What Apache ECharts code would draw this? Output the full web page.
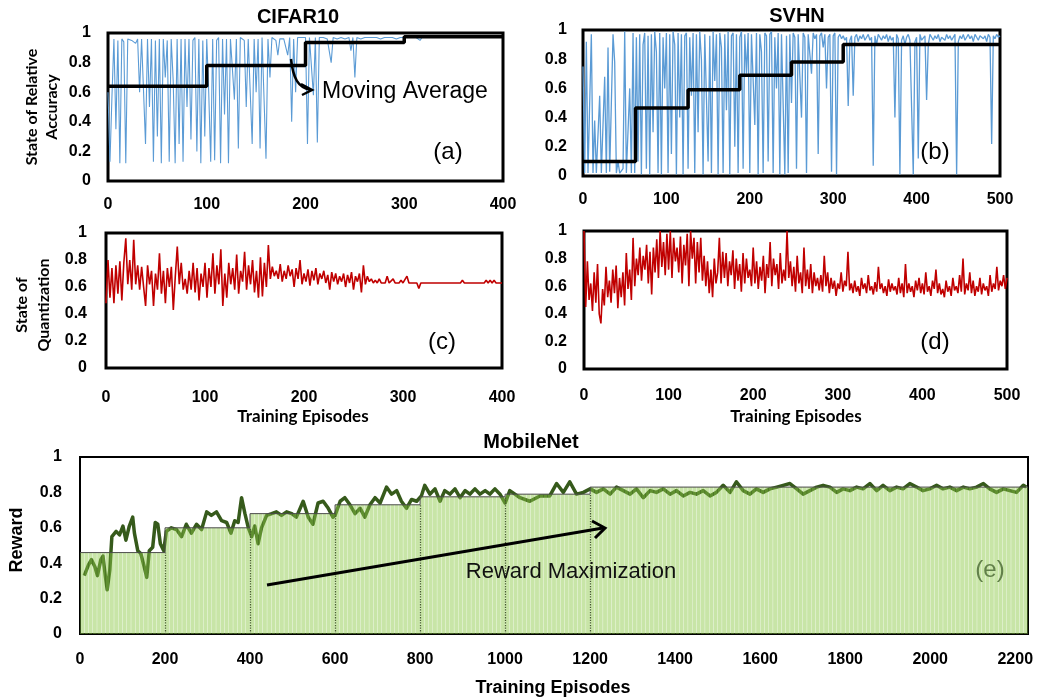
<!DOCTYPE html>
<html>
<head>
<meta charset="utf-8">
<script src="https://cdn.jsdelivr.net/npm/echarts@6.0.0/dist/echarts.min.js"></script>
<style>
html, body { margin: 0; padding: 0; background: #fff; }
#main { width: 1038px; height: 700px; }
</style>
</head>
<body>
<div id="main"></div>
<script>
// ---- (a) CIFAR10 relative accuracy, one value every 2 episodes (0..400)
var accA = [
  0.60, 0.13, 0.57, 0.96, 0.35, 0.95, 0.12, 0.96, 0.94, 0.12,
  0.96, 0.97, 0.95, 0.96, 0.93, 0.96, 0.60, 0.96, 0.97, 0.25,
  0.96, 0.50, 0.96, 0.13, 0.95, 0.30, 0.96, 0.12, 0.96, 0.70,
  0.95, 0.13, 0.96, 0.68, 0.12, 0.96, 0.25, 0.96, 0.13, 0.96,
  0.50, 0.96, 0.28, 0.95, 0.97, 0.20, 0.96, 0.12, 0.95, 0.30,
  0.96, 0.60, 0.13, 0.96, 0.14, 0.95, 0.97, 0.12, 0.96, 0.45,
  0.96, 0.12, 0.96, 0.95, 0.55, 0.96, 0.22, 0.97, 0.96, 0.95,
  0.50, 0.96, 0.95, 0.25, 0.96, 0.60, 0.96, 0.22, 0.97, 0.96,
  0.15, 0.96, 0.70, 0.97, 0.96, 0.95, 0.85, 0.96, 0.97, 0.96,
  0.96, 0.85, 0.97, 0.40, 0.96, 0.60, 0.97, 0.96, 0.97, 0.96,
  0.97, 0.25, 0.97, 0.96, 0.58, 0.97, 0.26, 0.97, 0.96, 0.97,
  0.97, 0.96, 0.97, 0.80, 0.97, 0.97, 0.96, 0.97, 0.97, 0.97,
  0.96, 0.97, 0.97, 0.88, 0.97, 0.70, 0.97, 0.97, 0.96, 0.97,
  0.97, 0.97, 0.97, 0.96, 0.97, 0.97, 0.97, 0.97, 0.96, 0.97,
  0.97, 0.97, 0.97, 0.97, 0.97, 0.97, 0.96, 0.97, 0.97, 0.97,
  0.97, 0.97, 0.98, 0.97, 0.97, 0.97, 0.97, 0.97, 0.95, 0.97,
  0.97, 0.97, 0.97, 0.97, 0.97, 0.97, 0.97, 0.97, 0.97, 0.97,
  0.97, 0.97, 0.97, 0.97, 0.97, 0.97, 0.97, 0.97, 0.97, 0.97,
  0.97, 0.97, 0.97, 0.97, 0.97, 0.97, 0.97, 0.97, 0.97, 0.97,
  0.97, 0.97, 0.97, 0.97, 0.97, 0.97, 0.97, 0.97, 0.97, 0.97,
  0.97
];
var maStartA = [0, 100, 200, 300, 400];
var maLevelA = [0.64, 0.78, 0.935, 0.975, 0.975];

// ---- (b) SVHN relative accuracy, every 2 episodes (0..500)
var accB = [
  0.75, 0.02, 0.92, 0.02, 0.01, 0.97, 0.02, 0.38, 0.02, 0.02,
  0.55, 0.02, 0.01, 0.68, 0.02, 0.88, 0.03, 0.02, 0.97, 0.78,
  0.02, 0.10, 0.02, 0.01, 0.05, 0.99, 0.02, 0.02, 0.60, 0.02,
  0.98, 0.02, 0.95, 0.10, 0.97, 0.01, 0.90, 0.98, 0.05, 0.96,
  0.01, 0.97, 0.30, 0.99, 0.85, 0.02, 0.98, 0.01, 0.95, 0.60,
  0.98, 0.02, 0.97, 0.15, 0.99, 0.90, 0.01, 0.98, 0.40, 0.97,
  0.01, 0.96, 0.98, 0.05, 0.95, 0.55, 0.98, 0.02, 0.97, 0.30,
  0.99, 0.80, 0.01, 0.97, 0.98, 0.10, 0.96, 0.02, 0.99, 0.65,
  0.97, 0.01, 0.98, 0.88, 0.02, 0.97, 0.45, 0.99, 0.01, 0.96,
  0.98, 0.20, 0.97, 0.02, 0.95, 0.99, 0.05, 0.97, 0.70, 0.98,
  0.02, 0.97, 0.96, 0.35, 0.98, 0.01, 0.97, 0.85, 0.02, 0.98,
  0.96, 0.10, 0.97, 0.99, 0.02, 0.95, 0.60, 0.98, 0.01, 0.97,
  0.98, 0.01, 0.96, 0.02, 0.97, 0.50, 0.98, 0.95, 0.05, 0.97,
  0.96, 0.40, 0.98, 0.95, 0.02, 0.97, 0.96, 0.70, 0.98, 0.94,
  0.97, 0.15, 0.96, 0.98, 0.88, 0.97, 0.60, 0.95, 0.97, 0.03,
  0.96, 0.98, 0.01, 0.95, 0.97, 0.94, 0.96, 0.93, 0.95, 0.48,
  0.93, 0.96, 0.55, 0.95, 0.97, 0.92, 0.96, 0.94, 0.97, 0.93,
  0.95, 0.97, 0.93, 0.95, 0.07, 0.96, 0.90, 0.97, 0.95, 0.93,
  0.96, 0.94, 0.97, 0.92, 0.96, 0.93, 0.95, 0.40, 0.97, 0.94,
  0.01, 0.93, 0.96, 0.90, 0.95, 0.97, 0.93, 0.94, 0.01, 0.92,
  0.95, 0.12, 0.97, 0.93, 0.94, 0.96, 0.52, 0.90, 0.97, 0.95,
  0.93, 0.96, 0.94, 0.97, 0.92, 0.95, 0.96, 0.93, 0.97, 0.94,
  0.96, 0.93, 0.95, 0.97, 0.01, 0.92, 0.96, 0.94, 0.97, 0.93,
  0.95, 0.97, 0.94, 0.96, 0.92, 0.97, 0.95, 0.93, 0.96, 0.97,
  0.94, 0.96, 0.92, 0.97, 0.95, 0.22, 0.96, 0.94, 0.97, 0.95,
  0.96
];
var maStartB = [0, 63, 126, 188, 250, 312, 500];
var maLevelB = [0.10, 0.465, 0.59, 0.69, 0.78, 0.90, 0.90];

// ---- (c) CIFAR10 quantization state, every 2 episodes (0..400)
var quantC = [
  0.48, 0.80, 0.52, 0.74, 0.48, 0.76, 0.55, 0.79, 0.50, 0.78,
  0.96, 0.62, 0.80, 0.58, 0.95, 0.62, 0.76, 0.58, 0.75, 0.60,
  0.46, 0.76, 0.62, 0.72, 0.46, 0.70, 0.58, 0.85, 0.55, 0.72,
  0.48, 0.74, 0.60, 0.75, 0.43, 0.68, 0.90, 0.62, 0.78, 0.58,
  0.66, 0.55, 0.72, 0.58, 0.78, 0.56, 0.74, 0.50, 0.70, 0.60,
  0.78, 0.52, 0.74, 0.60, 0.85, 0.55, 0.76, 0.62, 0.88, 0.46,
  0.70, 0.52, 0.78, 0.62, 0.74, 0.58, 0.84, 0.55, 0.72, 0.64,
  0.86, 0.58, 0.76, 0.62, 0.80, 0.56, 0.72, 0.52, 0.82, 0.53,
  0.78, 0.60, 0.91, 0.66, 0.75, 0.68, 0.72, 0.66, 0.77, 0.64,
  0.72, 0.66, 0.76, 0.68, 0.73, 0.60, 0.74, 0.66, 0.80, 0.62,
  0.70, 0.64, 0.73, 0.61, 0.72, 0.65, 0.74, 0.62, 0.70, 0.66,
  0.72, 0.63, 0.69, 0.58, 0.71, 0.64, 0.70, 0.62, 0.68, 0.64,
  0.70, 0.60, 0.69, 0.63, 0.71, 0.58, 0.68, 0.64, 0.70, 0.56,
  0.76, 0.62, 0.68, 0.64, 0.66, 0.63, 0.65, 0.63, 0.66, 0.63,
  0.64, 0.63, 0.68, 0.63, 0.63, 0.66, 0.63, 0.63, 0.63, 0.65,
  0.63, 0.63, 0.68, 0.63, 0.63, 0.63, 0.63, 0.63, 0.59, 0.63,
  0.63, 0.63, 0.63, 0.63, 0.63, 0.63, 0.63, 0.63, 0.63, 0.63,
  0.63, 0.63, 0.63, 0.63, 0.63, 0.63, 0.63, 0.63, 0.63, 0.63,
  0.65, 0.63, 0.63, 0.63, 0.63, 0.63, 0.63, 0.63, 0.63, 0.63,
  0.63, 0.63, 0.65, 0.63, 0.65, 0.63, 0.65, 0.63, 0.63, 0.63,
  0.63
];

// ---- (d) SVHN quantization state, every 2 episodes (0..500)
var quantD = [
  1.00, 0.45, 0.78, 0.50, 0.62, 0.42, 0.70, 0.48, 0.76, 0.40,
  0.33, 0.58, 0.46, 0.74, 0.52, 0.64, 0.48, 0.72, 0.55, 0.75,
  0.44, 0.66, 0.52, 0.70, 0.46, 0.84, 0.58, 0.72, 0.50, 0.95,
  0.60, 0.80, 0.68, 0.88, 0.64, 0.82, 0.72, 0.90, 0.62, 0.85,
  0.54, 0.88, 0.70, 0.94, 0.66, 1.00, 0.74, 0.92, 0.68, 0.98,
  0.72, 1.00, 0.66, 0.95, 0.78, 0.88, 0.70, 0.96, 0.62, 0.90,
  0.75, 0.98, 0.60, 1.00, 0.80, 0.95, 0.62, 0.92, 0.70, 0.95,
  0.64, 0.82, 0.60, 0.78, 0.55, 0.72, 0.52, 0.80, 0.62, 0.70,
  0.95, 0.62, 0.85, 0.66, 0.84, 0.60, 0.78, 0.68, 0.86, 0.58,
  0.80, 0.64, 0.76, 0.56, 0.84, 0.62, 0.80, 0.66, 0.72, 0.60,
  0.88, 0.62, 0.78, 0.58, 0.74, 0.64, 0.82, 0.55, 0.76, 0.66,
  0.92, 0.60, 0.80, 0.68, 0.76, 0.58, 0.84, 0.62, 0.72, 0.64,
  1.00, 0.66, 0.78, 0.60, 0.74, 0.56, 0.82, 0.62, 0.70, 0.55,
  0.88, 0.60, 0.72, 0.58, 0.76, 0.55, 0.70, 0.60, 0.66, 0.57,
  0.68, 0.56, 0.82, 0.60, 0.70, 0.55, 0.66, 0.58, 0.64, 0.53,
  0.62, 0.58, 0.70, 0.56, 0.64, 0.60, 0.85, 0.57, 0.62, 0.55,
  0.64, 0.56, 0.60, 0.53, 0.66, 0.58, 0.62, 0.55, 0.68, 0.57,
  0.60, 0.54, 0.63, 0.56, 0.74, 0.58, 0.62, 0.55, 0.60, 0.53,
  0.65, 0.56, 0.62, 0.57, 0.60, 0.54, 0.66, 0.55, 0.62, 0.52,
  0.76, 0.55, 0.62, 0.56, 0.60, 0.52, 0.64, 0.57, 0.66, 0.55,
  0.62, 0.54, 0.70, 0.56, 0.60, 0.53, 0.64, 0.58, 0.72, 0.55,
  0.62, 0.54, 0.58, 0.52, 0.64, 0.56, 0.60, 0.53, 0.66, 0.57,
  0.60, 0.55, 0.68, 0.56, 0.80, 0.54, 0.62, 0.57, 0.70, 0.55,
  0.64, 0.53, 0.60, 0.56, 0.66, 0.54, 0.62, 0.57, 0.60, 0.53,
  0.68, 0.56, 0.62, 0.58, 0.74, 0.57, 0.64, 0.60, 0.68, 0.58,
  0.66
];

// ---- (e) MobileNet reward
var rewardEp = [
  10, 20, 27, 35, 41, 49, 54, 60, 64, 70, 75, 85, 93, 101, 108, 116, 124, 128, 136, 143,
  151, 157, 163, 171, 177, 183, 189, 197, 203, 215, 227, 239, 250, 262, 274, 286, 298, 309, 321, 333,
  345, 355, 364, 372, 380, 388, 396, 404, 411, 419, 427, 439, 451, 462, 474, 486, 498, 509, 525, 537,
  548, 560, 572, 584, 595, 600, 612, 623, 635, 647, 659, 670, 682, 694, 706, 721, 733, 745, 756, 768,
  780, 792, 803, 811, 823, 835, 847, 858, 870, 882, 894, 906, 917, 929, 941, 953, 964, 976, 988, 1000,
  1011, 1023, 1035, 1058, 1082, 1105, 1121, 1137, 1152, 1168, 1184, 1200, 1215, 1231, 1247, 1262, 1278, 1294, 1309, 1325,
  1341, 1356, 1372, 1388, 1403, 1419, 1435, 1450, 1466, 1482, 1497, 1513, 1529, 1544, 1560, 1576, 1591, 1607, 1623, 1639,
  1654, 1670, 1686, 1701, 1717, 1733, 1748, 1764, 1780, 1795, 1811, 1827, 1842, 1858, 1874, 1889, 1905, 1921, 1936, 1952,
  1968, 1983, 1999, 2015, 2030, 2046, 2062, 2078, 2093, 2109, 2125, 2140, 2156, 2172, 2187, 2203, 2219, 2226
];
var rewardVal = [
  0.33, 0.39, 0.42, 0.38, 0.33, 0.42, 0.44, 0.32, 0.25, 0.36, 0.55, 0.58, 0.56, 0.61, 0.53, 0.61, 0.66, 0.57, 0.47, 0.455,
  0.38, 0.32, 0.47, 0.49, 0.63, 0.62, 0.51, 0.47, 0.58, 0.60, 0.59, 0.55, 0.62, 0.57, 0.62, 0.59, 0.69, 0.67, 0.69, 0.64,
  0.63, 0.57, 0.64, 0.63, 0.77, 0.68, 0.60, 0.55, 0.61, 0.51, 0.60, 0.67, 0.68, 0.69, 0.67, 0.69, 0.68, 0.66, 0.75, 0.66,
  0.62, 0.74, 0.75, 0.71, 0.66, 0.67, 0.75, 0.77, 0.73, 0.68, 0.71, 0.66, 0.73, 0.77, 0.74, 0.83, 0.79, 0.81, 0.75, 0.71,
  0.76, 0.75, 0.78, 0.84, 0.79, 0.82, 0.75, 0.81, 0.79, 0.82, 0.77, 0.81, 0.79, 0.82, 0.79, 0.81, 0.79, 0.82, 0.79, 0.74,
  0.81, 0.79, 0.77, 0.75, 0.78, 0.78, 0.85, 0.80, 0.86, 0.79, 0.80, 0.82, 0.80, 0.82, 0.79, 0.83, 0.81, 0.79, 0.82, 0.77,
  0.81, 0.80, 0.82, 0.79, 0.81, 0.78, 0.80, 0.79, 0.81, 0.78, 0.80, 0.84, 0.80, 0.86, 0.81, 0.79, 0.82, 0.80, 0.82, 0.83,
  0.84, 0.85, 0.82, 0.79, 0.81, 0.83, 0.84, 0.83, 0.80, 0.82, 0.81, 0.83, 0.82, 0.85, 0.81, 0.84, 0.81, 0.83, 0.82, 0.85,
  0.83, 0.81, 0.82, 0.84, 0.82, 0.83, 0.81, 0.83, 0.82, 0.83, 0.85, 0.82, 0.80, 0.82, 0.81, 0.80, 0.84, 0.83
];
var rewardStepStart = [0, 200, 400, 600, 800, 1000, 1200, 2230];
var rewardStepLevel = [0.46, 0.60, 0.68, 0.73, 0.775, 0.79, 0.83, 0.83];

var xTicksTop = [400, 500];     // axis maxima of (a)/(c) and (b)/(d)
var rewardMaxEp = 2230;

var chart = echarts.init(document.getElementById('main'));

function everyTwo(vals) {
  return vals.map(function (v, i) { return [i * 2, v]; });
}
function zip(xs, ys) {
  return xs.map(function (x, i) { return [x, ys[i]]; });
}

// bars of the moving-average level, one per 10 episodes
var rewardBars = [];
for (var ep = 5; ep < rewardMaxEp; ep += 10) {
  var lvl = rewardStepLevel[0];
  for (var k = 0; k < rewardStepStart.length; k++) {
    if (ep >= rewardStepStart[k]) lvl = rewardStepLevel[k];
  }
  rewardBars.push([ep, lvl]);
}
var dottedLines = [];
for (var k = 1; k <= 6; k++) {
  dottedLines.push([{ coord: [rewardStepStart[k], 0] }, { coord: [rewardStepStart[k], rewardStepLevel[k - 1]] }]);
}

var tickFont = { fontSize: 16, fontWeight: 'bold', color: '#000', fontFamily: 'Liberation Sans' };
function xAx(g, max, margin, extra) {
  return Object.assign({
    gridIndex: g, type: 'value', min: 0, max: max, interval: max > 1000 ? 200 : 100,
    axisLine: { show: false }, axisTick: { show: false }, splitLine: { show: false },
    axisLabel: Object.assign({ margin: margin }, tickFont)
  }, extra || {});
}
function yAx(g, margin) {
  return {
    gridIndex: g, type: 'value', min: 0, max: 1, interval: 0.2,
    axisLine: { show: false }, axisTick: { show: false }, splitLine: { show: false },
    axisLabel: Object.assign({ margin: margin }, tickFont)
  };
}

function txt(text, x, y, font, fill, rot, lh) {
  var el = { type: 'text', z: 100, x: x, y: y,
    style: { text: text, x: 0, y: 0, textAlign: 'center', textVerticalAlign: 'middle', font: font, fill: fill || '#000' } };
  if (rot) el.rotation = rot;
  if (lh) el.style.lineHeight = lh;
  return el;
}

var option = {
  backgroundColor: '#fff',
  animation: false,
  grid: [
    { left: 108, top: 33, width: 395, height: 148, show: true, borderColor: '#000', borderWidth: 3 },
    { left: 583, top: 30, width: 417, height: 146, show: true, borderColor: '#000', borderWidth: 3 },
    { left: 106, top: 233, width: 396, height: 135, show: true, borderColor: '#000', borderWidth: 3 },
    { left: 584, top: 231, width: 423, height: 138, show: true, borderColor: '#000', borderWidth: 3 },
    { left: 80, top: 457, width: 948, height: 177, show: true, borderColor: '#000', borderWidth: 2 }
  ],
  xAxis: [
    xAx(0, xTicksTop[0], 16),
    xAx(1, xTicksTop[1], 16),
    xAx(2, xTicksTop[0], 22),
    xAx(3, xTicksTop[1], 19),
    xAx(4, rewardMaxEp, 18, {
      axisLabel: Object.assign({ margin: 18, formatter: function (v) { return v % 200 === 0 ? v : ''; } }, tickFont)
    })
  ],
  yAxis: [yAx(0, 17), yAx(1, 16), yAx(2, 19), yAx(3, 17), yAx(4, 18)],
  series: [
    { type: 'line', xAxisIndex: 0, yAxisIndex: 0, data: everyTwo(accA), symbol: 'none',
      lineStyle: { width: 1.1, color: '#5b9bd5' }, z: 2 },
    { type: 'line', xAxisIndex: 0, yAxisIndex: 0, data: zip(maStartA, maLevelA), step: 'end', symbol: 'none',
      lineStyle: { width: 3.5, color: '#000' }, z: 3 },
    { type: 'line', xAxisIndex: 1, yAxisIndex: 1, data: everyTwo(accB), symbol: 'none',
      lineStyle: { width: 1.3, color: '#5b9bd5' }, z: 2 },
    { type: 'line', xAxisIndex: 1, yAxisIndex: 1, data: zip(maStartB, maLevelB), step: 'end', symbol: 'none',
      lineStyle: { width: 3.5, color: '#000' }, z: 3 },
    { type: 'line', xAxisIndex: 2, yAxisIndex: 2, data: everyTwo(quantC), symbol: 'none',
      lineStyle: { width: 1.6, color: '#c00000' } },
    { type: 'line', xAxisIndex: 3, yAxisIndex: 3, data: everyTwo(quantD), symbol: 'none',
      lineStyle: { width: 1.6, color: '#c00000' } },
    { type: 'line', xAxisIndex: 4, yAxisIndex: 4, data: zip(rewardEp, rewardVal), symbol: 'none',
      lineStyle: { width: 3.5, color: '#365a1b', join: 'round' }, z: 1 },
    { type: 'bar', xAxisIndex: 4, yAxisIndex: 4, data: rewardBars, barWidth: 3.9,
      itemStyle: { color: 'rgba(140,200,72,0.48)' }, z: 5 },
    { type: 'line', xAxisIndex: 4, yAxisIndex: 4, data: zip(rewardStepStart, rewardStepLevel), step: 'end', symbol: 'none',
      lineStyle: { width: 1, color: '#4a4a4a' }, z: 6,
      markLine: { silent: true, symbol: 'none', label: { show: false },
        lineStyle: { type: 'dotted', color: '#222', width: 1.3 }, data: dottedLines } }
  ],
  graphic: [
    txt('CIFAR10', 298, 17, 'bold 20px "Liberation Sans"'),
    txt('SVHN', 797, 16, 'bold 20px "Liberation Sans"'),
    txt('MobileNet', 531, 442, 'bold 20px "Liberation Sans"'),
    txt('State of Relative\nAccuracy', 42, 107, 'bold 16px Lato', '#000', Math.PI / 2, 20),
    txt('State of\nQuantization', 33, 305, 'bold 16px Lato', '#000', Math.PI / 2, 22),
    txt('Reward', 17, 540, 'bold 18px "Liberation Sans"', '#000', Math.PI / 2),
    txt('Training Episodes', 303, 417, 'bold 17px Lato'),
    txt('Training Episodes', 796, 417, 'bold 17px Lato'),
    txt('Training Episodes', 553, 688, 'bold 18px "Liberation Sans"'),
    txt('Moving Average', 405, 92, '23px "Liberation Sans"'),
    txt('Reward Maximization', 571, 572, '22px "Liberation Sans"', '#111'),
    txt('(a)', 448, 152, '24px "Liberation Sans"'),
    txt('(b)', 935, 152, '24px "Liberation Sans"'),
    txt('(c)', 442, 342, '24px "Liberation Sans"'),
    txt('(d)', 935, 342, '24px "Liberation Sans"'),
    txt('(e)', 990, 570, '24px "Liberation Sans"', '#62804a'),
    // curved arrow to the moving average
    { type: 'bezierCurve', z: 100, shape: { x1: 291, y1: 59, cpx1: 293, cpy1: 78, cpx2: 298, cpy2: 88, x2: 311, y2: 90 },
      style: { stroke: '#000', lineWidth: 2.5, fill: null } },
    { type: 'polyline', z: 100, shape: { points: [[301, 84], [312, 90], [302, 95]] },
      style: { stroke: '#000', lineWidth: 2.5, fill: null } },
    // reward maximization arrow
    { type: 'line', z: 100, shape: { x1: 267, y1: 585, x2: 603, y2: 528 }, style: { stroke: '#000', lineWidth: 3 } },
    { type: 'polyline', z: 100, shape: { points: [[592, 521], [605, 528], [595, 538]] },
      style: { stroke: '#000', lineWidth: 3, fill: null } }
  ]
};

chart.setOption(option);
</script>
</body>
</html>
